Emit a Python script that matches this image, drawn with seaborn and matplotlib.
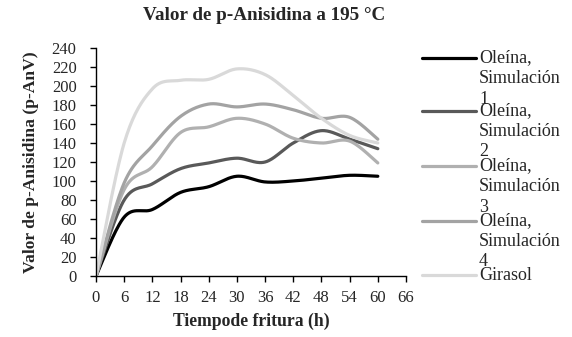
import numpy as np
import pandas as pd
import matplotlib
matplotlib.use("Agg")
import matplotlib.pyplot as plt
import seaborn as sns
from matplotlib.lines import Line2D

# ---- data ----
hours = [0, 6, 12, 18, 24, 30, 36, 42, 48, 54, 60]
sim1 = [0, 62, 70, 88, 94, 105, 99, 100, 103, 106, 105]
sim2 = [0, 80, 97, 113, 119, 124, 120, 140, 153, 144, 134]
sim3 = [0, 91, 115, 151, 157, 166, 160, 145, 140, 142, 119]
sim4 = [0, 98, 137, 168, 181, 178, 181, 175, 166, 167, 144]
girasol = [0, 140, 197, 206, 207, 218, 212, 190, 166, 148, 140]
series_names = ["Oleína, Simulación 1", "Oleína, Simulación 2", "Oleína, Simulación 3",
                "Oleína, Simulación 4", "Girasol"]
legend_lines = [["Oleína,", "Simulación", "1"], ["Oleína,", "Simulación", "2"],
                ["Oleína,", "Simulación", "3"], ["Oleína,", "Simulación", "4"], ["Girasol"]]
colors = ["#000000", "#595959", "#b0b0b0", "#a3a3a3", "#d9d9d9"]
x_ticks = list(range(0, 67, 6))
y_ticks = list(range(0, 241, 20))


def smooth(xs, ys, n=30):
    """Excel-style smoothed line (Catmull-Rom Bezier) through the data points."""
    xs = np.asarray(xs, float); ys = np.asarray(ys, float)
    P = np.column_stack([xs, ys])
    out = []
    for i in range(len(P) - 1):
        p0 = P[i - 1] if i > 0 else P[i]
        p1, p2 = P[i], P[i + 1]
        p3 = P[i + 2] if i + 2 < len(P) else P[i + 1]
        c1 = p1 + (p2 - p0) / 6.0
        c2 = p2 - (p3 - p1) / 6.0
        t = np.linspace(0, 1, n, endpoint=(i == len(P) - 2))[:, None]
        seg = ((1 - t) ** 3) * p1 + 3 * ((1 - t) ** 2) * t * c1 + 3 * (1 - t) * t ** 2 * c2 + t ** 3 * p2
        out.append(seg)
    out = np.vstack(out)
    return out[:, 0], out[:, 1]


frames = []
for name, vals in zip(series_names, [sim1, sim2, sim3, sim4, girasol]):
    sx, sy = smooth(hours, vals)
    frames.append(pd.DataFrame({"h": sx, "v": sy, "serie": name}))
df = pd.concat(frames, ignore_index=True)

sns.set_style("white")
plt.rcParams["font.family"] = ["Liberation Serif", "DejaVu Serif"]

fig = plt.figure(figsize=(5.72, 3.37), dpi=100)
ax = fig.add_axes([96 / 572, 1 - 276 / 337, 310 / 572, 228 / 337])

sns.lineplot(data=df, x="h", y="v", hue="serie", hue_order=series_names,
             palette=colors, sort=False, estimator=None, units="serie",
             linewidth=2.3, legend=False, ax=ax)

ax.set_xlim(0, 66)
ax.set_ylim(0, 240)
ax.set_xticks(x_ticks)
ax.set_yticks(y_ticks)
ax.tick_params(axis="both", direction="out", length=4, width=1, color="black",
               labelsize=12, bottom=True, left=True)
ax.tick_params(axis="x", pad=6)
ax.tick_params(axis="y", pad=10)
for s in ["top", "right"]:
    ax.spines[s].set_visible(False)
for s in ["left", "bottom"]:
    ax.spines[s].set_color("black")
    ax.spines[s].set_linewidth(1)
ax.set_xlabel("Tiempode fritura (h)", fontsize=12.7, fontweight="bold", labelpad=5)
ax.set_ylabel("Valor de p-Anisidina (p-AnV)", fontsize=12.6, fontweight="bold", labelpad=9)

fig.text(264 / 572, 1 - 16 / 337, "Valor de p-Anisidina a 195 °C", ha="center", va="center",
         fontsize=13.8, fontweight="bold")

# manual legend (wrapped labels like the original)
W, H = 572, 337
entry_y = [58, 111, 166, 221, 275]
for ypix, lines, col in zip(entry_y, legend_lines, colors):
    fig.add_artist(Line2D([422 / W, 476 / W], [1 - ypix / H, 1 - ypix / H],
                          color=col, linewidth=2.3, transform=fig.transFigure))
    for k, txt in enumerate(lines):
        fig.text(479 / W, 1 - (ypix + k * 20.5) / H, txt, ha="left", va="center", fontsize=13)

fig.savefig("out.png", dpi=100)
